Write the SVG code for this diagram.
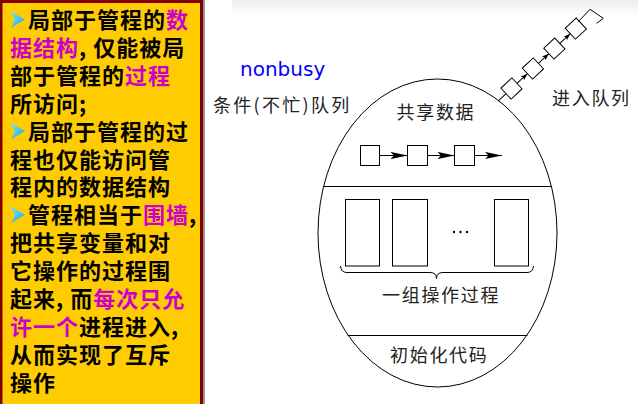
<svg xmlns="http://www.w3.org/2000/svg" width="638" height="404" viewBox="0 0 638 404">
<defs>
  <linearGradient id="band" x1="0" y1="0" x2="0" y2="1">
    <stop offset="0" stop-color="#ededed"/>
    <stop offset="1" stop-color="#ffffff"/>
  </linearGradient>
  <linearGradient id="bul" x1="0" y1="0" x2="1" y2="1">
    <stop offset="0" stop-color="#7FE3FF"/>
    <stop offset="1" stop-color="#1AA6E0"/>
  </linearGradient>
  <marker id="dart" markerUnits="userSpaceOnUse" viewBox="0 0 17 8" markerWidth="17" markerHeight="8" refX="17" refY="4" orient="auto">
    <path d="M0,0.4 L17,4 L0,7.6 L3.5,4 Z" fill="#000"/>
  </marker>
  <marker id="small" markerUnits="userSpaceOnUse" viewBox="0 0 7 5" markerWidth="7" markerHeight="5" refX="7" refY="2.5" orient="auto">
    <path d="M0,0 L7,2.5 L0,5 L1.5,2.5 Z" fill="#000"/>
  </marker>
  <path id="bullet" d="M0,0 L15,8.5 L1,17 L5,8.5 Z" fill="url(#bul)"/>
</defs>
<style>
  .lt{font-family:"Noto Sans CJK SC","Noto Sans CJK JP",sans-serif;font-size:22px;font-weight:bold;letter-spacing:1px;fill:#000}
  .mg{fill:#CC00CC}
  .lbl{font-family:"Noto Sans CJK SC","Noto Sans CJK JP",sans-serif;font-size:18px;letter-spacing:1.7px;fill:#222;dominant-baseline:central}
  .ln{fill:none;stroke:#000;stroke-width:1}
  .box{fill:#fff;stroke:#000;stroke-width:1}
</style>

<!-- faint top band -->
<rect x="232" y="0" width="406" height="16" fill="url(#band)"/>

<!-- left text panel -->
<g id="panel">
  <rect x="0" y="0" width="205" height="404" fill="#999"/>
  <rect x="0" y="0" width="203" height="404" fill="#800000"/>
  <rect x="2.5" y="3" width="197.5" height="401" fill="#FFCC00"/>
  <use href="#bullet" x="10" y="11"/>
  <use href="#bullet" x="10" y="122.6"/>
  <use href="#bullet" x="10" y="206.3"/>
  <text class="lt">
    <tspan x="28" y="28">局部于管程的<tspan class="mg">数</tspan></tspan>
    <tspan x="10" y="55.9"><tspan class="mg">据结构</tspan>, 仅能被局</tspan>
    <tspan x="10" y="83.8">部于管程的<tspan class="mg">过程</tspan></tspan>
    <tspan x="10" y="111.7">所访问;</tspan>
    <tspan x="28" y="139.6">局部于管程的过</tspan>
    <tspan x="10" y="167.5">程也仅能访问管</tspan>
    <tspan x="10" y="195.4">程内的数据结构</tspan>
    <tspan x="28" y="223.3">管程相当于<tspan class="mg">围墙</tspan>,</tspan>
    <tspan x="10" y="251.2">把共享变量和对</tspan>
    <tspan x="10" y="279.1">它操作的过程围</tspan>
    <tspan x="10" y="307">起来, 而<tspan class="mg">每次只允</tspan></tspan>
    <tspan x="10" y="334.9"><tspan class="mg">许一个</tspan>进程进入,</tspan>
    <tspan x="10" y="362.8">从而实现了互斥</tspan>
    <tspan x="10" y="390.7">操作</tspan>
  </text>
</g>

<!-- labels outside monitor -->
<g id="nonbusy-label">
  <text x="240" y="76" font-family="DejaVu Sans, Verdana, sans-serif" font-size="20" fill="#0000FF">nonbusy</text>
</g>
<g id="condition-queue-label">
  <text class="lbl" x="213" y="103.5" style="letter-spacing:2.3px">条件(不忙)队列</text>
</g>
<g id="entry-queue-label">
  <text class="lbl" x="552" y="96.5">进入队列</text>
</g>

<!-- monitor oval -->
<g id="monitor">
  <ellipse class="ln" cx="437.5" cy="233" rx="119.5" ry="154"/>
  <line class="ln" x1="323.5" y1="186.5" x2="551.5" y2="186.5"/>
  <line class="ln" x1="347.5" y1="335.5" x2="527.5" y2="335.5"/>
</g>

<g id="shared-data">
  <text class="lbl" x="396.5" y="111">共享数据</text>
  <rect class="box" x="360.5" y="145.5" width="19" height="20"/>
  <rect class="box" x="407.5" y="145.5" width="20" height="20"/>
  <rect class="box" x="454.5" y="145.5" width="20" height="20"/>
</g>

<g id="procedures">
  <rect class="box" x="345.5" y="199.5" width="34" height="66.5"/>
  <rect class="box" x="392.5" y="199.5" width="35" height="66.5"/>
  <rect class="box" x="494.5" y="199.5" width="34" height="66.5"/>
  <circle cx="454" cy="232" r="1.2" fill="#000"/>
  <circle cx="460.5" cy="232" r="1.2" fill="#000"/>
  <circle cx="467" cy="232" r="1.2" fill="#000"/>
  <path class="ln" d="M340.5,266 Q341,272.5 347,272.5 L430,272.5 Q436.5,272.5 436.5,278.5 Q436.5,272.5 443,272.5 L527,272.5 Q533,272.5 533.5,266"/>
  <text class="lbl" x="382" y="293.5">一组操作过程</text>
</g>

<g id="init-code">
  <text class="lbl" x="390" y="353.5">初始化代码</text>
</g>

<g id="entry-queue" transform="translate(511.5,88.5) rotate(-43)">
  <rect class="box" x="-7.5" y="-7.5" width="15" height="15"/>
  <rect class="box" x="21.8" y="-7.5" width="15" height="15"/>
  <rect class="box" x="51.1" y="-7.5" width="15" height="15"/>
  <rect class="box" x="80.4" y="-7.5" width="15" height="15"/>
</g>

<!-- connectors -->
<g id="connectors">
  <line class="ln" x1="379.5" y1="155.5" x2="407.5" y2="155.5" marker-end="url(#dart)"/>
  <line class="ln" x1="427.5" y1="155.5" x2="454.5" y2="155.5" marker-end="url(#dart)"/>
  <line class="ln" x1="474.5" y1="155.5" x2="502" y2="155.5" marker-end="url(#dart)"/>
  <g transform="translate(511.5,88.5) rotate(-43)">
    <line class="ln" x1="-7.5" y1="0" x2="-18" y2="0"/>
    <line class="ln" x1="7.5" y1="0" x2="21.8" y2="0" marker-end="url(#small)"/>
    <line class="ln" x1="36.8" y1="0" x2="51.1" y2="0" marker-end="url(#small)"/>
    <line class="ln" x1="66.1" y1="0" x2="80.4" y2="0" marker-end="url(#small)"/>
  </g>
  <polyline class="ln" points="578.3,21.7 590,9.3 603.3,18.3 596.7,23.3"/>
</g>
</svg>
